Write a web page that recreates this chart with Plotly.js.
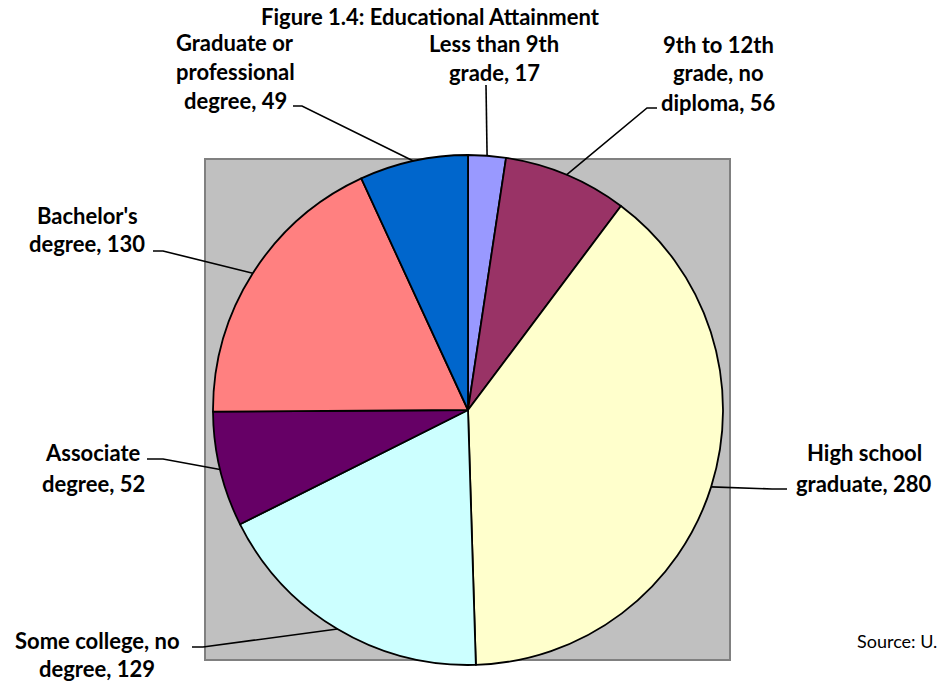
<!DOCTYPE html>
<html>
<head>
<meta charset="utf-8">
<script src="https://cdn.plot.ly/plotly-3.0.1.min.js"></script>
<style>html,body{margin:0;padding:0;background:#fff;}#chart{width:940px;height:681px;}</style>
</head>
<body>
<div id="chart"></div>
<script>
// ---- data ----
const categories = ["Less than 9th grade", "9th to 12th grade, no diploma", "High school graduate",
  "Some college, no degree", "Associate degree", "Bachelor's degree", "Graduate or professional degree"];
const values = [17, 56, 280, 129, 52, 130, 49];
const labelLines = [
  ["Less than 9th", "grade, {v}"],
  ["9th to 12th", "grade, no", "diploma, {v}"],
  ["High school", "graduate, {v}"],
  ["Some college, no", "degree, {v}"],
  ["Associate", "degree, {v}"],
  ["Bachelor's", "degree, {v}"],
  ["Graduate or", "professional", "degree, {v}"]
];
const colors = ["#9999FF", "#993366", "#FFFFCC", "#CCFFFF", "#660066", "#FF8080", "#0066CC"];
const titleText = "Figure 1.4: Educational Attainment";
const sourceText = "Source: U.";

// ---- layout geometry (pixels) ----
const W = 940, H = 681;
const CX = 468, CY = 410, R = 255;
const px = x => x / W;
const py = y => 1 - y / H;

// label placement: centre x, first line y, line step, leader start, elbow x
const labelPos = [
  {cx: 494, y0: 43, dy: 30, sx: 486, sy: 85, ex: null},
  {cx: 718, y0: 44, dy: 29, sx: 657, sy: 108, ex: 647},
  {cx: 864, y0: 453, dy: 30, sx: 787, sy: 489, ex: 772},
  {cx: 97, y0: 640, dy: 28, sx: 192, sy: 647, ex: 203},
  {cx: 93, y0: 453, dy: 30, sx: 147, sy: 459, ex: 163},
  {cx: 87, y0: 215, dy: 28, sx: 153, sy: 251, ex: 163},
  {cx: 235, y0: 42, dy: 29, sx: 293, sy: 106, ex: 302}
];

const total = values.reduce((a, b) => a + b, 0);
const annotations = [];
const shapes = [{
  type: 'rect', xref: 'paper', yref: 'paper', layer: 'below',
  x0: px(205), x1: px(730), y0: py(660), y1: py(159),
  fillcolor: '#C0C0C0', line: {color: '#808080', width: 2}
}];

let cum = 0;
values.forEach((v, i) => {
  const mid = (cum + v / 2) / total * 2 * Math.PI;
  cum += v;
  const ex = CX + R * Math.sin(mid), ey = CY - R * Math.cos(mid);
  const p = labelPos[i];
  let path = `M ${px(p.sx)} ${py(p.sy)}`;
  if (p.ex !== null) path += ` L ${px(p.ex)} ${py(p.sy)}`;
  path += ` L ${px(ex)} ${py(ey)}`;
  shapes.push({type: 'path', xref: 'paper', yref: 'paper', path: path,
    line: {color: '#000000', width: 1.6}});
  labelLines[i].forEach((ln, k) => {
    annotations.push({
      xref: 'paper', yref: 'paper', x: px(p.cx), y: py(p.y0 + k * p.dy),
      xanchor: 'center', yanchor: 'middle', showarrow: false,
      text: ln.replace('{v}', v),
      font: {family: 'Lato, "Open Sans", sans-serif', size: 22, weight: 700, color: '#000000'}
    });
  });
});

annotations.push({
  xref: 'paper', yref: 'paper', x: px(855), y: py(641), xanchor: 'left', yanchor: 'middle',
  showarrow: false, text: sourceText,
  font: {family: 'Lato, "Open Sans", sans-serif', size: 18, color: '#000000'}
});

const trace = {
  type: 'pie', labels: categories, values: values, sort: false,
  direction: 'clockwise', rotation: 0, textinfo: 'none', hoverinfo: 'label+value',
  marker: {colors: colors, line: {color: '#000000', width: 1.8}},
  domain: {x: [px(CX - R), px(CX + R)], y: [py(CY + R), py(CY - R)]},
  showlegend: false
};

const layout = {
  width: W, height: H,
  margin: {l: 0, r: 0, t: 0, b: 0},
  paper_bgcolor: '#FFFFFF',
  showlegend: false,
  title: {text: titleText, x: px(430), xanchor: 'center', y: py(17), yanchor: 'middle',
    font: {family: 'Lato, "Open Sans", sans-serif', size: 22, weight: 700, color: '#000000'}},
  shapes: shapes,
  annotations: annotations
};

Plotly.newPlot('chart', [trace], layout, {displayModeBar: false, staticPlot: true});
</script>
</body>
</html>
